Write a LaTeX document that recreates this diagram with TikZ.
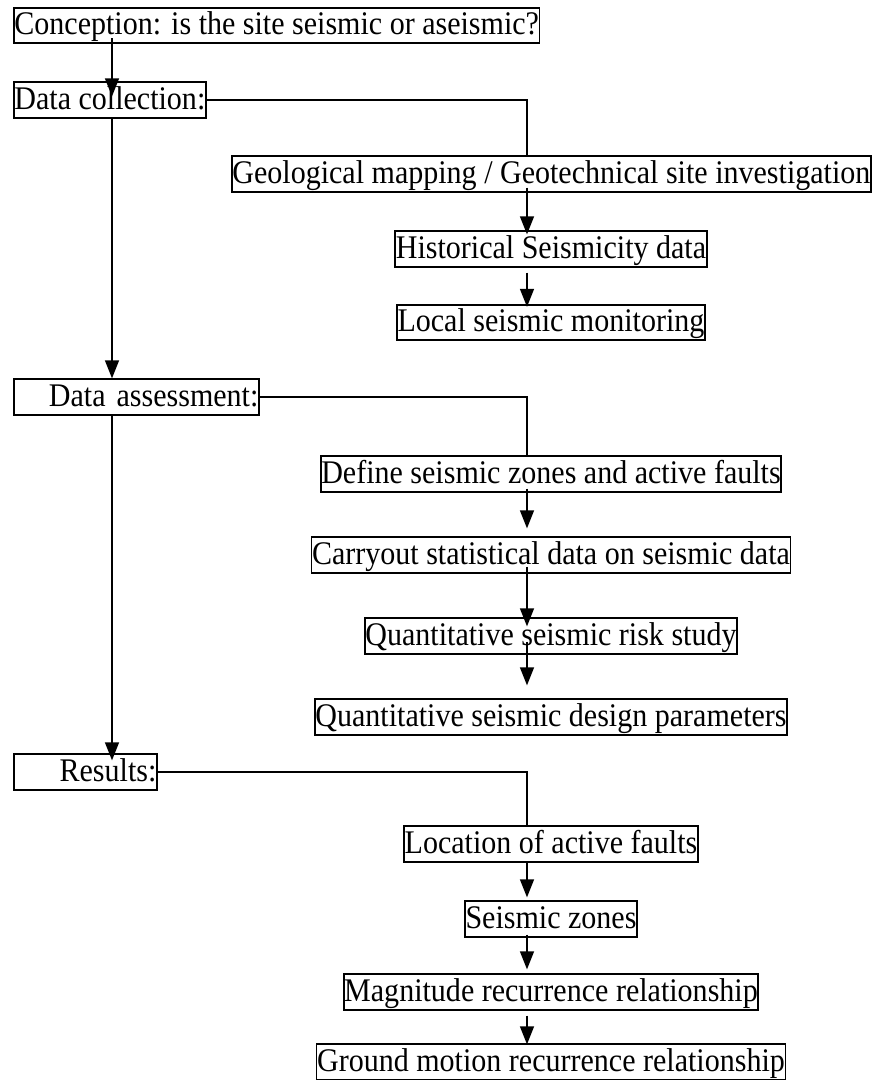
\documentclass[tikz,border=0pt]{standalone}
\usepackage{fontspec}
\setmainfont[FakeStretch=0.91]{Liberation Serif}
\usetikzlibrary{arrows.meta}

\begin{document}
\begin{tikzpicture}[x=1pt,y=-1pt,
  box/.style={draw,line width=1.8pt,font=\fontsize{33}{35}\selectfont,
    inner xsep=0.5pt,inner ysep=3.5pt,text height=23.5pt,text depth=5pt},
  arr/.style={line width=1.4pt,-{Triangle[width=14pt,length=18pt]}},
  link/.style={line width=1.4pt}]
\useasboundingbox (0,0) rectangle (871,1080);
\coordinate (spine) at (112,0);
\coordinate (branch) at (527,0);
% left column
 \node[box,anchor=west] (concept) at (13,25.5) {Conception: is the site seismic or aseismic?};
 \node[box,anchor=west] (collect) at (13,100) {Data collection:};
 \node[box,anchor=west,text width=244pt,align=right] (assess) at (13,397) {Data assessment:};
 \node[box,anchor=west,text width=142pt,align=right] (results) at (13,772) {Results:};
% data collection
 \node[box,anchor=west] (geo) at (231,174) {Geological mapping / Geotechnical site investigation};
 \node[box] (hist) at (551,249) {Historical Seismicity data};
 \node[box] (local) at (551,322.5) {Local seismic monitoring};
% data assessment
 \node[box] (define) at (551,474) {Define seismic zones and active faults};
 \node[box] (carry) at (551,555) {Carryout statistical data on seismic data};
 \node[box] (risk) at (551,636) {Quantitative seismic risk study};
 \node[box] (design) at (551,717) {Quantitative seismic design parameters};
% results
 \node[box] (location) at (551,844) {Location of active faults};
 \node[box] (zones) at (551,919) {Seismic zones};
 \node[box] (magnitude) at (551,992) {Magnitude recurrence relationship};
 \node[box] (ground) at (551,1062) {Ground motion recurrence relationship};
% main line
\draw[arr,shorten <=-6pt,shorten >=-15pt] (concept.south -| spine)--(collect.north -| spine);
\draw[arr] (collect.south -| spine)--(assess.north -| spine);
\draw[arr,shorten >=-7pt] (assess.south -| spine)--(results.north -| spine);
% branches
\draw[link] (collect.east) -| (geo.north -| branch);
\draw[arr,shorten <=-5pt,shorten >=-4pt] (geo.south -| branch)--(hist.north -| branch);
\draw[arr,shorten <=5pt,shorten >=-3pt] (hist.south -| branch)--(local.north -| branch);
\draw[link] (assess.east) -| (define.north -| branch);
\draw[arr,shorten <=-4pt,shorten >=8pt] (define.south -| branch)--(carry.north -| branch);
\draw[arr,shorten <=-7pt,shorten >=-9pt] (carry.south -| branch)--(risk.north -| branch);
\draw[arr,shorten <=-13pt,shorten >=13pt] (risk.south -| branch)--(design.north -| branch);
\draw[link] (results.east) -| (location.north -| branch);
\draw[arr,shorten >=3pt] (location.south -| branch)--(zones.north -| branch);
\draw[arr,shorten <=-3pt,shorten >=4pt] (zones.south -| branch)--(magnitude.north -| branch);
\draw[arr,shorten <=5pt,shorten >=-1pt] (magnitude.south -| branch)--(ground.north -| branch);
\end{tikzpicture}
\end{document}
